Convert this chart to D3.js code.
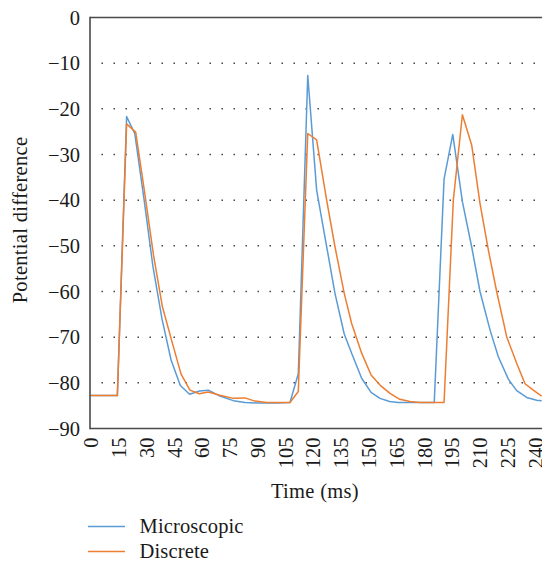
<!DOCTYPE html>
<html>
<head>
<meta charset="utf-8">
<script src="https://cdn.jsdelivr.net/npm/d3@7"></script>
<style>
  html, body { margin: 0; padding: 0; background: #fff; }
  svg { display: block; }
  text { font-family: "Liberation Serif", "Times New Roman", serif; fill: #1a1a1a; }
</style>
</head>
<body>
<svg id="chart" width="542" height="566"></svg>
<script>
// Time axis ticks (ms) and potential ticks
const timeTicks = [0, 15, 30, 45, 60, 75, 90, 105, 120, 135, 150, 165, 180, 195, 210, 225, 240];
const potentialTicks = [0, -10, -20, -30, -40, -50, -60, -70, -80, -90];

// Microscopic model trace
const microTime = [0, 14.5, 19.5, 23.9, 28.8, 33.7, 38.6, 43.5, 48.5, 53.5, 58.9, 63.6, 69.9, 77.1, 83.4, 90, 100, 107.7,
  112.2, 117.3, 122.1, 127, 132, 137, 141, 146.4, 151.5, 156.3, 161.5, 166, 175, 185.6,
  190.9, 195.6, 200.8, 205.8, 210.3, 215.7, 220.2, 225.6, 230.1, 235.5, 240.9, 243.6];
const microValue = [-82.8, -82.8, -21.7, -25.4, -39.5, -54.5, -66, -75.0, -80.6, -82.5, -81.8, -81.6, -82.9, -83.9, -84.3, -84.4, -84.4, -84.3,
  -78.0, -12.7, -37.8, -49, -60.4, -69.3, -73.5, -79, -82.1, -83.4, -84.1, -84.3, -84.3, -84.3,
  -35.4, -25.6, -40.3, -50.2, -60.0, -68.4, -74.3, -79.2, -81.7, -83.2, -83.8, -83.9];

// Discrete model trace
const discTime = [0, 14.5, 19.5, 24.4, 29.3, 34, 38.8, 43.8, 48.9, 53.7, 58.7, 63.6, 69.9, 77.1, 83.4, 88.8, 95, 107.7,
  112.2, 117.3, 122.1, 127.5, 132, 137, 141, 146.4, 151.5, 156.3, 161.7, 167, 172.5, 178, 190.9,
  195.9, 200.8, 205.8, 210.3, 214.8, 219.3, 224.7, 230.1, 234.6, 239.1, 243.6];
const discValue = [-82.8, -82.8, -23.3, -25.1, -38.5, -52, -63.3, -70.7, -78.1, -81.6, -82.4, -82.0, -82.7, -83.4, -83.3, -84.0, -84.3, -84.3,
  -81.9, -25.4, -26.8, -40, -50.2, -60.4, -67.0, -73.5, -78.3, -80.5, -82.3, -83.6, -84.1, -84.3, -84.3,
  -40, -21.3, -27.9, -40.7, -50.9, -60.0, -69.9, -75.7, -80.2, -81.6, -82.9];

const seriesNames = ["Microscopic", "Discrete"];
const seriesColors = ["#5b9bd5", "#ed7d31"];

const svg = d3.select("#chart");
const plotLeft = 90, plotRight = 542, plotTop = 17.5, plotBottom = 428.5;
const fontSize = 20.5;

const x = d3.scaleLinear().domain([0, 240]).range([90.5, 535]);
const y = d3.scaleLinear().domain([-90, 0]).range([plotBottom, plotTop]);

// dotted horizontal gridlines
svg.append("g").selectAll("line")
  .data(potentialTicks.filter(v => v !== 0 && v !== -90))
  .join("line")
  .attr("x1", plotLeft + 11.5).attr("x2", plotRight)
  .attr("y1", d => y(d)).attr("y2", d => y(d))
  .attr("stroke", "#444").attr("stroke-width", 1.5)
  .attr("stroke-dasharray", "1.5,10.5");

// clip for the traces
svg.append("clipPath").attr("id", "plotClip")
  .append("rect").attr("x", plotLeft).attr("y", 0).attr("width", plotRight - plotLeft).attr("height", plotBottom);

const line = d3.line().x(d => x(d[0])).y(d => y(d[1]));
const traces = [
  d3.zip(microTime, microValue),
  d3.zip(discTime, discValue)
];
// orange drawn on top
svg.append("g").attr("clip-path", "url(#plotClip)")
  .selectAll("path").data(traces).join("path")
  .attr("d", line)
  .attr("fill", "none")
  .attr("stroke", (d, i) => seriesColors[i])
  .attr("stroke-width", 1.5)
  .attr("stroke-linejoin", "round");

// frame lines: top, left, bottom
const frame = svg.append("g").attr("stroke", "#4a4a4a").attr("stroke-width", 1.6);
frame.append("line").attr("x1", plotLeft).attr("x2", plotRight).attr("y1", plotTop).attr("y2", plotTop);
frame.append("line").attr("x1", plotLeft).attr("x2", plotLeft).attr("y1", plotTop - 0.8).attr("y2", plotBottom + 0.8);
frame.append("line").attr("x1", plotLeft).attr("x2", plotRight).attr("y1", plotBottom).attr("y2", plotBottom);

// y axis labels
const yAxis = d3.axisLeft(y).tickValues(potentialTicks).tickSize(0).tickPadding(10)
  .tickFormat(d => d3.format("")(d).replace("-", "\u2212"));
const gy = svg.append("g").attr("transform", `translate(${plotLeft},0)`).call(yAxis);
gy.select(".domain").remove();
gy.selectAll("text").attr("font-size", fontSize).attr("font-family", "Liberation Serif").attr("fill", "#1a1a1a");

// x axis labels, rotated
const xAxis = d3.axisBottom(x).tickValues(timeTicks).tickSize(0).tickFormat(d3.format(""));
const gx = svg.append("g").attr("transform", `translate(0,${plotBottom})`).call(xAxis);
gx.select(".domain").remove();
gx.selectAll("text")
  .attr("font-size", fontSize).attr("font-family", "Liberation Serif").attr("fill", "#1a1a1a")
  .attr("text-anchor", "end")
  .attr("transform", "rotate(-90)")
  .attr("x", -9).attr("y", 0).attr("dy", "0.35em");

// axis titles
svg.append("text").attr("x", 315).attr("y", 498).attr("text-anchor", "middle")
  .attr("font-size", fontSize).attr("letter-spacing", 0.3).text("Time (ms)");
svg.append("text").attr("transform", "translate(27,220) rotate(-90)").attr("text-anchor", "middle")
  .attr("font-size", fontSize).attr("letter-spacing", 0.3).text("Potential difference");

// legend
const legend = svg.append("g").selectAll("g").data(seriesNames).join("g")
  .attr("transform", (d, i) => `translate(90,${526.5 + i * 25})`);
legend.append("line").attr("x1", -2).attr("x2", 35)
  .attr("stroke", (d, i) => seriesColors[i]).attr("stroke-width", 1.5);
legend.append("text").attr("x", 49.5).attr("y", 6.5).attr("font-size", fontSize)
  .attr("letter-spacing", 0.15).text(d => d);
</script>
</body>
</html>
